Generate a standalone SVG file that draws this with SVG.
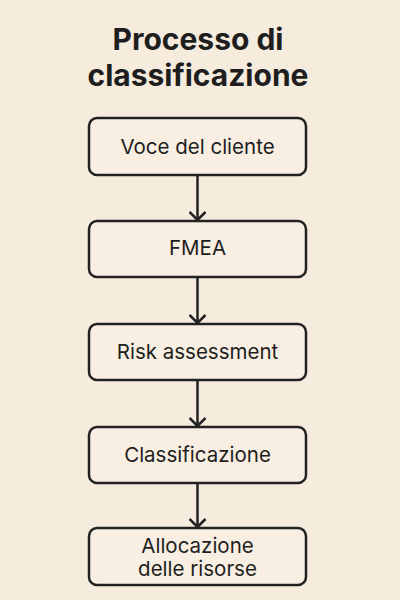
<svg xmlns="http://www.w3.org/2000/svg" width="400" height="600" viewBox="0 0 400 600">
<style>
.box{fill:#f8efe2;stroke:#222;stroke-width:2.5}
.lbl{font-family:Inter,"Liberation Sans",sans-serif;font-size:20.5px;fill:#1e1e1e;text-anchor:middle}
.ttl{font-family:Inter,"Liberation Sans",sans-serif;font-size:30px;font-weight:700;fill:#1e1e1e;text-anchor:middle}
.con{fill:none;stroke:#222;stroke-width:2.5}
</style>
<defs>
<marker id="chev" viewBox="0 0 10 18" refX="9" refY="9" markerWidth="10" markerHeight="18" markerUnits="userSpaceOnUse" orient="auto">
<path d="M1,1 L9,9 L1,17" fill="none" stroke="#222" stroke-width="2.5" stroke-linejoin="miter"/>
</marker>
</defs>
<rect width="400" height="600" fill="#f6ecde"/>
<g id="title">
<text class="ttl" x="198" y="50">Processo di</text>
<text class="ttl" x="198" y="86">classificazione</text>
</g>
<g id="connectors">
<path class="con" d="M197.5,175 V220" marker-end="url(#chev)"/>
<path class="con" d="M197.5,278 V323" marker-end="url(#chev)"/>
<path class="con" d="M197.5,380 V426" marker-end="url(#chev)"/>
<path class="con" d="M197.5,483 V527" marker-end="url(#chev)"/>
</g>
<g id="n1">
<rect class="box" x="89" y="118" width="217" height="57" rx="8"/>
<text class="lbl" x="197.5" y="154">Voce del cliente</text>
</g>
<g id="n2">
<rect class="box" x="89" y="221" width="217" height="56" rx="8"/>
<text class="lbl" x="197.5" y="255">FMEA</text>
</g>
<g id="n3">
<rect class="box" x="89" y="324" width="217" height="56" rx="8"/>
<text class="lbl" x="197.5" y="359">Risk assessment</text>
</g>
<g id="n4">
<rect class="box" x="89" y="427" width="217" height="56" rx="8"/>
<text class="lbl" x="197.5" y="462">Classificazione</text>
</g>
<g id="n5">
<rect class="box" x="89" y="528" width="217" height="57" rx="8"/>
<text class="lbl" x="197.5" y="553">Allocazione</text>
<text class="lbl" x="197.5" y="576">delle risorse</text>
</g>
</svg>
